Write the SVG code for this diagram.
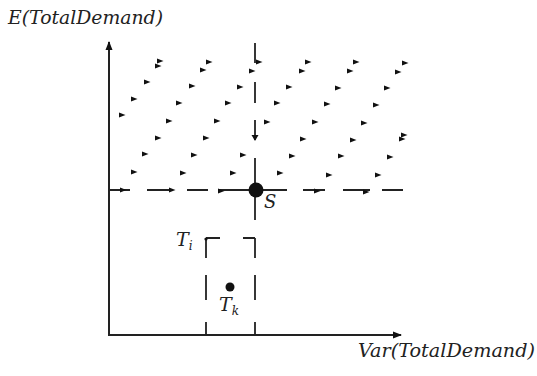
<svg xmlns="http://www.w3.org/2000/svg" width="537" height="376" viewBox="0 0 537 376">
<style>
.ax{stroke:#222;stroke-width:2;fill:none}
.dl{stroke:#222;stroke-width:1.8;fill:none}
.t{font-family:"DejaVu Serif","Liberation Serif",serif;font-style:italic;fill:#222}
.h{fill:#111}
</style>
<defs>
<path id="a" class="h" d="M-3,-2.6 L3.5,0 L-3,2.6 Z"/>
<marker id="ah" markerWidth="10" markerHeight="8" refX="8" refY="4" orient="auto" markerUnits="userSpaceOnUse"><path d="M0,0.5 L9,4 L0,7.5 Z" fill="#111"/></marker>
</defs>
<rect width="537" height="376" fill="#fff"/>
<g id="axes">
<line class="ax" x1="109" y1="335" x2="109" y2="42" marker-end="url(#ah)"/>
<line class="ax" x1="108" y1="335" x2="401" y2="335" marker-end="url(#ah)"/>
</g>
<g id="connectors">
<path class="dl" d="M255,43V63 M255,82V103 M255,120V140 M255,158V220 M255,238V258 M255,275V300 M255,322V335"/>
<path class="dl" d="M109,190H130 M147,190H173 M187,190H208 M218,190H287 M303,190H325 M343,190H370 M382,190H403"/>
<path class="dl" d="M206,238H220 M243,238H255 M206,238V258 M206,275V300 M206,322V335"/>
<path class="h" d="M251.5,135 L255,141 L258.5,135 Z"/>
</g>
<g id="field">
<use href="#a" x="160" y="61"/><use href="#a" x="158" y="66"/><use href="#a" x="209" y="62"/><use href="#a" x="259" y="62"/><use href="#a" x="308" y="62"/><use href="#a" x="356" y="62"/><use href="#a" x="405" y="63"/>
<use href="#a" x="203" y="70"/><use href="#a" x="252" y="71"/><use href="#a" x="302" y="71"/><use href="#a" x="350" y="71"/><use href="#a" x="398" y="72"/>
<use href="#a" x="147" y="82"/><use href="#a" x="192" y="86"/><use href="#a" x="240" y="87"/><use href="#a" x="289" y="87"/><use href="#a" x="338" y="88"/><use href="#a" x="387" y="88"/>
<use href="#a" x="134" y="99"/><use href="#a" x="179" y="103"/><use href="#a" x="228" y="103"/><use href="#a" x="277" y="103"/><use href="#a" x="327" y="104"/><use href="#a" x="376" y="105"/>
<use href="#a" x="122" y="115"/><use href="#a" x="169" y="121"/><use href="#a" x="217" y="121"/><use href="#a" x="267" y="122"/><use href="#a" x="315" y="122"/><use href="#a" x="364" y="123"/>
<use href="#a" x="158" y="138"/><use href="#a" x="206" y="138"/><use href="#a" x="303" y="139"/><use href="#a" x="353" y="140"/><use href="#a" x="404" y="135"/><use href="#a" x="402" y="139"/>
<use href="#a" x="145" y="154"/><use href="#a" x="194" y="155"/><use href="#a" x="243" y="155"/><use href="#a" x="292" y="156"/><use href="#a" x="341" y="156"/><use href="#a" x="390" y="157"/>
<use href="#a" x="134" y="172"/><use href="#a" x="183" y="173"/><use href="#a" x="233" y="173"/><use href="#a" x="280" y="173"/><use href="#a" x="329" y="175"/><use href="#a" x="378" y="175"/>
<use href="#a" x="123" y="190"/><use href="#a" x="172" y="190"/><use href="#a" x="221" y="191"/><use href="#a" x="317" y="191"/><use href="#a" x="366" y="192"/>
</g>
<g id="S">
<circle cx="256" cy="190" r="7.5" class="h"/>
<text class="t" x="264" y="208" font-size="18">S</text>
</g>
<g id="Ti">
<circle cx="206" cy="239" r="1.6" class="h"/>
<text class="t" x="176" y="246" font-size="19">T<tspan font-size="12" dy="4">i</tspan></text>
</g>
<g id="Tk">
<circle cx="230" cy="287" r="4.5" class="h"/>
<text class="t" x="219" y="311" font-size="19">T<tspan font-size="12" dy="4">k</tspan></text>
</g>
<g id="labels">
<text class="t" x="8" y="24" font-size="19" textLength="155" lengthAdjust="spacingAndGlyphs">E(TotalDemand)</text>
<text class="t" x="358" y="357" font-size="19" textLength="177" lengthAdjust="spacingAndGlyphs">Var(TotalDemand)</text>
</g>
</svg>
